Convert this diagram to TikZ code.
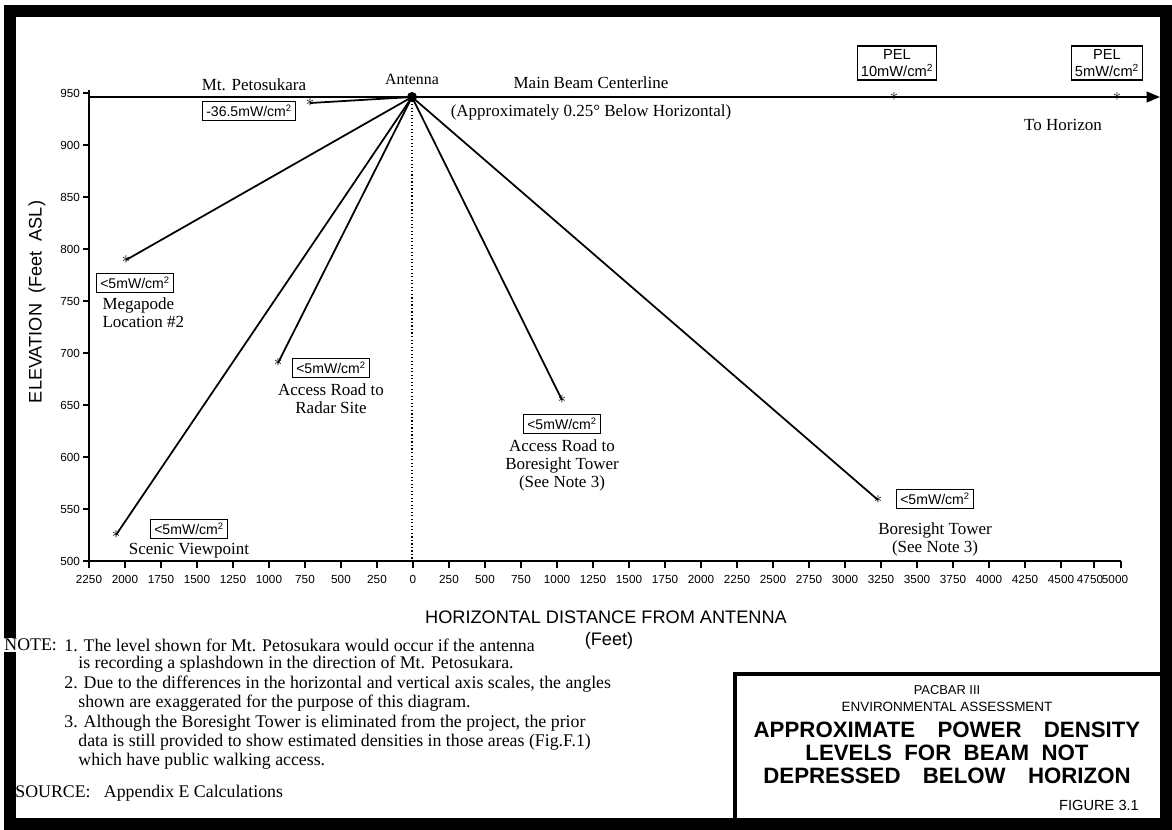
\documentclass[tikz,border=0pt]{standalone}
\usepackage{fontspec}
\setmainfont{Liberation Serif}
\setsansfont{Liberation Sans}
\usetikzlibrary{positioning, calc, arrows.meta}

\begin{document}
\begin{tikzpicture}[x=0.03cm, y=-0.03cm,
    ray/.style={line width=1.5pt},
    dens/.style={draw, line width=1.2pt, inner sep=3pt, font=\sffamily\fontsize{12}{13}\selectfont},
    pelbox/.style={dens, align=center, inner sep=3pt, font=\sffamily\fontsize{12.5}{14}\selectfont},
    lbl/.style={font=\fontsize{14.5}{15.5}\selectfont, align=center},
    spot/.style={inner sep=0pt, font=\fontsize{14}{14}\selectfont},
    tick/.style={font=\sffamily\fontsize{10}{12}\selectfont},
    axtitle/.style={font=\sffamily\fontsize{15.5}{17}\selectfont},
    note/.style={anchor=west, inner sep=1pt, font=\fontsize{15.2}{17}\selectfont}]

    \useasboundingbox (0,0) rectangle (1172,829);

    % frame and title block
    \draw[line width=0.34cm] (10,11) rectangle (1166,824);
    \draw[line width=0.12cm] (735,674) rectangle (1166,824);

    % axes
    \draw[line width=1.2pt] (89,90) -- (89,561) -- (1121,561);
    \foreach \v in {500,550,...,950} {
        \draw[line width=1pt] (83,{561-(\v-500)*1.04}) -- (89,{561-(\v-500)*1.04});
        \node[tick, anchor=east] at (84,{561-(\v-500)*1.04}) {\v};
    }
    \foreach \i in {0,...,27} {
        \pgfmathtruncatemacro\lab{abs((\i-9)*250)}
        \draw[line width=1pt] (89+36*\i,561) -- (89+36*\i,568);
        \node[tick] at (89+36*\i,579) {\lab};
    }
    \draw[line width=1pt] (1094,561) -- (1094,568);
    \draw[line width=1pt] (1121,561) -- (1121,568);
    \node[tick] at (1090,579) {4750};
    \node[tick] at (1115,579) {5000};

    \node[axtitle, rotate=90] (ytitle) at (37,302) {ELEVATION\ \ (Feet\ \ ASL)};
    \node[axtitle] (xtitle) at (606,617) {HORIZONTAL DISTANCE FROM ANTENNA};
    \node[axtitle] (xunit) at (609,641) {(Feet)};

    % antenna and beam
    \node[circle, fill, inner sep=0pt, minimum size=0.3cm] (ant) at (412,97) {};
    \coordinate (beamstart) at (89,97);
    \coordinate (horizon) at (1160,97);
    \coordinate (origin) at (412,561);
    \draw[ray, -{Triangle[length=0.4cm, width=0.32cm]}] (beamstart) -- (horizon);
    \draw[line width=1pt, dotted] (ant.center) -- (origin);

    % rays to the sites
    \foreach \n/\px/\py in {mtpt/310/103, megapt/126/260, radarpt/278/363, scenicpt/116/535, abtpt/562/400, btpt/878/500} {
        \node[spot] (\n) at (\px,\py) {$\ast$};
        \draw[ray] (ant.center) -- (\n.center);
    }
    \node[spot] (pel10pt) at (894,97) {$\ast$};
    \node[spot] (pel5pt) at (1117,97) {$\ast$};

    \node[lbl, font=\fontsize{13.5}{15}\selectfont] (antlbl) at (412,79) {Antenna};
    \node[lbl] (mtlbl) at (254,85) {Mt. Petosukara};
    \node[dens] (mtbox) at (249,111) {-36.5mW/cm\textsuperscript{2}};
    \node[lbl] (beamlbl) at (591,83) {Main Beam Centerline};
    \node[lbl] (anglelbl) at (591,112) {(Approximately 0.25° Below Horizontal)};
    \node[pelbox] (pel10) at (897,63) {PEL\\10mW/cm\textsuperscript{2}};
    \node[pelbox] (pel5) at (1107,63) {PEL\\5mW/cm\textsuperscript{2}};
    \node[lbl] (horlbl) at (1063,125) {To Horizon};

    \node[dens] (megabox) at (135,283) {<5mW/cm\textsuperscript{2}};
    \node[lbl, align=left, anchor=north west] (megalbl) at ([xshift=2pt]megabox.south west) {Megapode\\Location \#2};
    \node[dens] (radarbox) at (331,368) {<5mW/cm\textsuperscript{2}};
    \node[lbl, below=1pt of radarbox] (radarlbl) {Access Road to\\Radar Site};
    \node[dens] (scenicbox) at (189,529) {<5mW/cm\textsuperscript{2}};
    \node[lbl, below=0pt of scenicbox] (sceniclbl) {Scenic Viewpoint};
    \node[dens] (abtbox) at (562,424) {<5mW/cm\textsuperscript{2}};
    \node[lbl, below=1pt of abtbox] (abtlbl) {Access Road to\\Boresight Tower\\(See Note 3)};
    \node[dens] (btbox) at (935,499) {<5mW/cm\textsuperscript{2}};
    \node[lbl, below=0.28cm of btbox] (btlbl) {Boresight Tower\\(See Note 3)};

    % notes
    \node[note, fill=white] (notehead) at (3,645) {NOTE:};
    \foreach \nx/\ny/\ntxt in {
        63/645/{1. The level shown for Mt. Petosukara would occur if the antenna},
        77/664/{is recording a splashdown in the direction of Mt. Petosukara.},
        63/684/{2. Due to the differences in the horizontal and vertical axis scales, the angles},
        77/703/{shown are exaggerated for the purpose of this diagram.},
        63/723/{3. Although the Boresight Tower is eliminated from the project, the prior},
        77/742/{data is still provided to show estimated densities in those areas (Fig.F.1)},
        77/761/{which have public walking access.}} {
        \node[note] at (\nx,\ny) {\ntxt};
    }
    \node[note] (source) at (14,793) {SOURCE:\ \ \ Appendix E Calculations};

    % title block text
    \node[font=\sffamily\fontsize{11}{13}\selectfont] (prog) at (947,690) {PACBAR III};
    \node[font=\sffamily\fontsize{11.5}{13}\selectfont] (ea) at (947,707) {ENVIRONMENTAL ASSESSMENT};
    \node[font=\sffamily\bfseries\fontsize{19}{19.5}\selectfont, align=center] (title) at (947,753) {APPROXIMATE\quad POWER\quad DENSITY\\LEVELS\ \ FOR\ \ BEAM\ \ NOT\\DEPRESSED\quad BELOW\quad HORIZON};
    \node[anchor=east, font=\sffamily\fontsize{12.5}{14}\selectfont] (fig) at (1143,805) {FIGURE 3.1};
\end{tikzpicture}
\end{document}
